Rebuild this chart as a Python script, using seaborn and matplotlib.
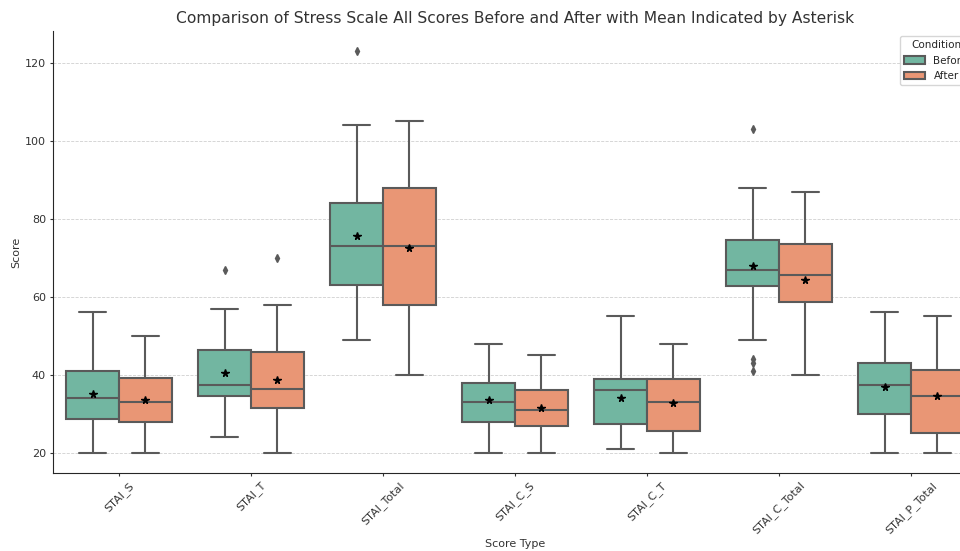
import matplotlib
matplotlib.use("Agg")
import matplotlib.pyplot as plt
import seaborn as sns
import pandas as pd

score_types = ["STAI_S", "STAI_T", "STAI_Total", "STAI_C_S", "STAI_C_T", "STAI_C_Total", "STAI_P_Total"]
conditions = ["Before", "After"]

stai_s_before = [20, 25, 28.7, 31, 34, 37, 41, 43.2, 56]
stai_s_after = [20, 24, 28, 30, 33, 36, 39.1, 42.3, 50]
stai_t_before = [24, 24.5, 34.7, 35, 37.5, 37.5, 46.4, 57, 67]
stai_t_after = [20, 21, 25, 31.5, 32, 34, 36.5, 37, 40, 45.9, 52.2, 58, 70]
stai_total_before = [49, 52, 58, 63, 65, 70, 73, 74, 78, 84, 89.8, 104, 123]
stai_total_after = [40, 48, 58, 64, 73, 78, 88, 97.6, 105]
stai_c_s_before = [20, 24, 28, 30, 33, 36, 38, 44.5, 48]
stai_c_s_after = [20, 23, 27, 29, 31, 33, 36, 39.5, 45]
stai_c_t_before = [21, 23, 27.5, 29, 36, 36.5, 39, 40.8, 55]
stai_c_t_after = [20, 22, 25.5, 29, 33, 36, 39, 41.8, 48]
stai_c_total_before = [41, 43, 44, 49, 62.75, 64, 66, 67, 67, 70, 72, 74, 74.5, 80, 87.35, 88, 103]
stai_c_total_after = [40, 45, 58.75, 60, 65.5, 68, 73.5, 81.85, 87]
stai_p_total_before = [20, 25, 30, 34, 37.5, 40, 43, 47.5, 56]
stai_p_total_after = [20, 22, 25, 30, 34.5, 38, 41.2, 44.8, 55]

groups = [
    ("STAI_S", stai_s_before, stai_s_after),
    ("STAI_T", stai_t_before, stai_t_after),
    ("STAI_Total", stai_total_before, stai_total_after),
    ("STAI_C_S", stai_c_s_before, stai_c_s_after),
    ("STAI_C_T", stai_c_t_before, stai_c_t_after),
    ("STAI_C_Total", stai_c_total_before, stai_c_total_after),
    ("STAI_P_Total", stai_p_total_before, stai_p_total_after),
]
rows = []
for name, before, after in groups:
    rows += [(name, "Before", v) for v in before]
    rows += [(name, "After", v) for v in after]
df = pd.DataFrame(rows, columns=["Score Type", "Condition", "Score"])

sns.set_style("ticks")
fig = plt.figure(figsize=(9.6, 5.51), dpi=100)
ax = fig.add_axes([53 / 960, (551 - 473) / 551, (977 - 53) / 960, (473 - 31) / 551])

sns.boxplot(
    data=df, x="Score Type", y="Score", hue="Condition",
    order=score_types, hue_order=conditions, palette="Set2",
    saturation=0.75, width=0.8, linewidth=1.5, linecolor="#5a5a5a",
    showmeans=True,
    meanprops=dict(marker="*", markerfacecolor="black", markeredgecolor="black", markersize=5.5),
    flierprops=dict(marker="d", markerfacecolor="#5a5a5a", markeredgecolor="#5a5a5a", markersize=4),
    ax=ax,
)

ax.yaxis.grid(True, linestyle="--", color="#d0d0d0", linewidth=0.6)
ax.set_axisbelow(True)
sns.despine(ax=ax)
ax.set_title("Comparison of Stress Scale All Scores Before and After with Mean Indicated by Asterisk",
             fontsize=11.2, color="#333333")
ax.set_xlabel("Score Type", fontsize=8, color="#333333", labelpad=2)
ax.set_ylabel("Score", fontsize=8, color="#333333", labelpad=3)
ax.tick_params(axis="both", labelsize=8, colors="#333333", length=2.5, pad=2.5)
plt.setp(ax.get_xticklabels(), rotation=45)
ax.legend(title="Condition", loc="upper right", fontsize=7.5, title_fontsize=7.5)

fig.savefig("out.png", dpi=100)
